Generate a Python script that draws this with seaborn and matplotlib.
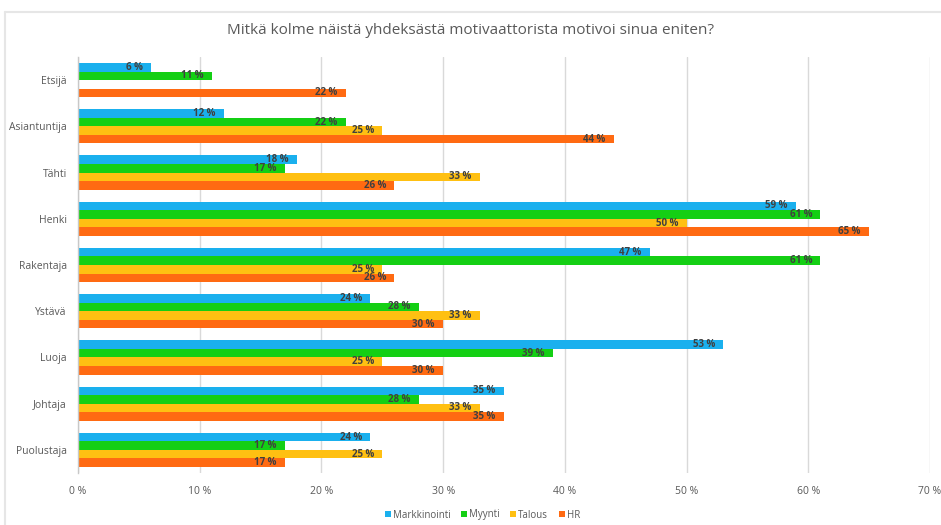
import numpy as np
import pandas as pd
import matplotlib
matplotlib.use("Agg")
import matplotlib.pyplot as plt
from matplotlib.lines import Line2D
import seaborn as sns

categories = ["Etsijä", "Asiantuntija", "Tähti", "Henki", "Rakentaja",
              "Ystävä", "Luoja", "Johtaja", "Puolustaja"]
series = ["Markkinointi", "Myynti", "Talous", "HR"]
markkinointi = [6, 12, 18, 59, 47, 24, 53, 35, 24]
myynti = [11, 22, 17, 61, 61, 28, 39, 28, 17]
talous = [np.nan, 25, 33, 50, 25, 33, 25, 33, 25]
hr = [22, 44, 26, 65, 26, 30, 30, 35, 17]
x_ticks = [0, 10, 20, 30, 40, 50, 60, 70]
title = "Mitkä kolme näistä yhdeksästä motivaattorista motivoi sinua eniten?"

colors = ["#1AB0EE", "#14CF14", "#FFC012", "#FF6A12"]

rows = []
for name, vals in zip(series, [markkinointi, myynti, talous, hr]):
    for cat, v in zip(categories, vals):
        rows.append({"kategoria": cat, "ryhmä": name, "arvo": v})
df = pd.DataFrame(rows)

sns.set_theme(style="white")
plt.rcParams["font.family"] = ["Open Sans", "DejaVu Sans"]

fig = plt.figure(figsize=(9.41, 5.25), dpi=100)
ax = fig.add_axes([78 / 941, 1 - 473 / 525, (930 - 78) / 941, (473 - 57) / 525])

sns.barplot(data=df, y="kategoria", x="arvo", hue="ryhmä", order=categories,
            hue_order=series, palette=colors, orient="h", width=0.74,
            saturation=1, ax=ax, legend=False, linewidth=0, errorbar=None)

ax.set_xlim(0, 70)
ax.set_ylim(len(categories) - 0.5, -0.5)
ax.set_xticks(x_ticks)
ax.set_xticklabels([f"{t} %" for t in x_ticks], color="#595959", fontsize=7.5)
ax.tick_params(axis="x", length=0, pad=9)
ax.tick_params(axis="y", length=0, pad=8, labelsize=7.5, labelcolor="#595959")
ax.set_xlabel("")
ax.set_ylabel("")
ax.grid(axis="x", color="#D9D9D9", linewidth=1)
ax.set_axisbelow(True)
for side in ["top", "right", "bottom"]:
    ax.spines[side].set_visible(False)
ax.spines["left"].set_color("#C8C8C8")
ax.spines["left"].set_linewidth(1)

# value labels inside the bar ends
for cont in ax.containers:
    for bar in cont:
        w = bar.get_width()
        if np.isnan(w) or w == 0:
            continue
        ax.annotate(f"{w:.0f} %", xy=(w, bar.get_y() + bar.get_height() / 2),
                    xytext=(-6, 0), textcoords="offset points",
                    ha="right", va="center", fontsize=7, fontweight="bold",
                    color="#404040")

fig.text(0.5, 1 - 31 / 525, title, ha="center", va="center",
         fontsize=11, color="#595959")

handles = [Line2D([], [], marker="s", linestyle="", markersize=5,
                  markerfacecolor=c, markeredgewidth=0) for c in colors]
fig.legend(handles, series, loc="center", bbox_to_anchor=(482 / 941, 1 - 515 / 525),
           ncol=4, frameon=False, fontsize=7, labelcolor="#595959",
           handletextpad=0.1, columnspacing=1.0, handlelength=0.8)

# chart frame edges
fig.add_artist(Line2D([5 / 941, 1], [1 - 12 / 525, 1 - 12 / 525],
                      transform=fig.transFigure, color="#E6E6E6", linewidth=1.5))
fig.add_artist(Line2D([5 / 941, 5 / 941], [1 - 12 / 525, 0],
                      transform=fig.transFigure, color="#E6E6E6", linewidth=1.5))

fig.savefig("out.png", dpi=100)
